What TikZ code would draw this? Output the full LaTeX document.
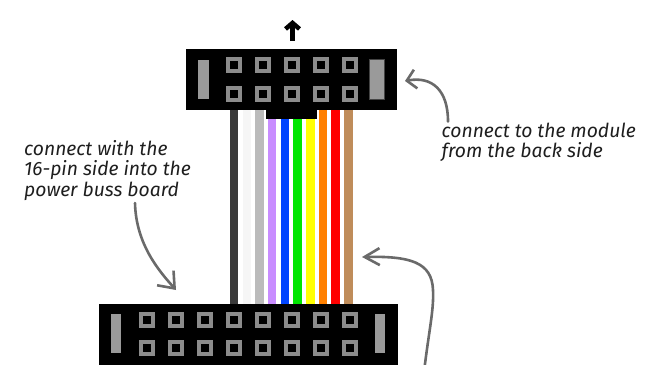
\documentclass[tikz,border=0pt]{standalone}
\usepackage{fontspec}
\setsansfont{Fira Sans}
\usetikzlibrary{arrows.meta}

\definecolor{pingray}{HTML}{8C8C8C}
\definecolor{bargray}{HTML}{9A9A9A}
\definecolor{barline}{HTML}{444444}
\definecolor{callgray}{HTML}{6A6A6A}
\definecolor{notetext}{HTML}{1E1E1E}
% ribbon wire colours
\definecolor{wdark}{HTML}{3A3A3A}
\definecolor{wwhite}{HTML}{F6F6F6}
\definecolor{wlgray}{HTML}{BBBBBB}
\definecolor{wpurple}{HTML}{C88CFF}
\definecolor{wblue}{HTML}{0044FF}
\definecolor{wgreen}{HTML}{00E600}
\definecolor{wyellow}{HTML}{FFFF00}
\definecolor{worange}{HTML}{FF8000}
\definecolor{wred}{HTML}{FF0000}
\definecolor{wbrown}{HTML}{BF8C5A}

% one pin socket, #1,#2 = top left corner
\newcommand{\pinsq}[2]{%
    \draw[pingray, line width=4pt] (#1+2,#2+2) rectangle ++(12,12);
}

\tikzset{
    note/.style={font=\sffamily\itshape\fontsize{19.3}{20.7}\selectfont,
        text=notetext, align=left, inner sep=0pt, anchor=north west},
    callout/.style={callgray, line width=2.6pt, line cap=round},
    keybar/.style={fill=bargray},
}

\begin{document}
\begin{tikzpicture}[x=1pt,y=-1pt]
    \clip (0,0) rectangle (655,364);
    % ribbon wires
    \foreach \c [count=\i from 0] in {wdark,wwhite,wlgray,wpurple,wblue,wgreen,wyellow,worange,wred,wbrown} {
        \fill[\c] (229.8+12.7*\i,109) rectangle ++(8.5,196);
    }
    % 10-pin connector
    \fill[black] (186,49.3) rectangle (397,110);
    \fill[black] (266,108) rectangle (317,119);
    \fill[keybar] (198.3,60) rectangle (208.7,99.3);
    \filldraw[keybar, draw=barline, line width=1pt] (369.5,59.8) rectangle (384.8,99.5);
    \foreach \x in {0,...,4} {
        \pinsq{225.5+29*\x}{57.3}
        \pinsq{225.5+29*\x}{86}
    }
    % 16-pin connector
    \fill[black] (99,304) rectangle (398,380);
    \fill[keybar] (111,314.3) rectangle (121,353.3);
    \fill[keybar] (374.7,314.3) rectangle (385.3,353.3);
    \foreach \x in {0,...,7} {
        \pinsq{138.5+29*\x}{311.7}
        \pinsq{138.5+29*\x}{340}
    }
    % direction mark
    \coordinate (uptail) at (292.5,41);
    \coordinate (uphead) at (292.5,20);
    \draw[line width=4.5pt, -{Straight Barb[length=6pt,width=14pt]}] (uptail) -- (uphead);
    % notes
    \node[note] (busnote) at (24,140) {connect with the\\16-pin side into the\\power buss board};
    \node[note] (modnote) at (441.5,122.5) {connect to the module\\from the back side};
    \coordinate (busarrow) at (176,290);
    \coordinate (modarrow) at (405,81);
    \coordinate (ribbonarrow) at (362,257);
    \coordinate (ribbonfoot) at (424,372);
    \draw[callout, -{Straight Barb[length=14pt,width=22pt]}]
        ([xshift=111pt,yshift=-2pt]busnote.south west) .. controls (136,245) and (160,272) .. (busarrow);
    \draw[callout, -{Straight Barb[length=9pt,width=19pt]}]
        ([xshift=6.5pt,yshift=1pt]modnote.north west) .. controls (448,90) and (432,76) .. (modarrow);
    \draw[callout, -{Straight Barb[length=15pt,width=17pt]}]
        (ribbonfoot) .. controls (429,330) and (434,310) .. (433,290)
        .. controls (432,262) and (410,256) .. (ribbonarrow);
\end{tikzpicture}
\end{document}
